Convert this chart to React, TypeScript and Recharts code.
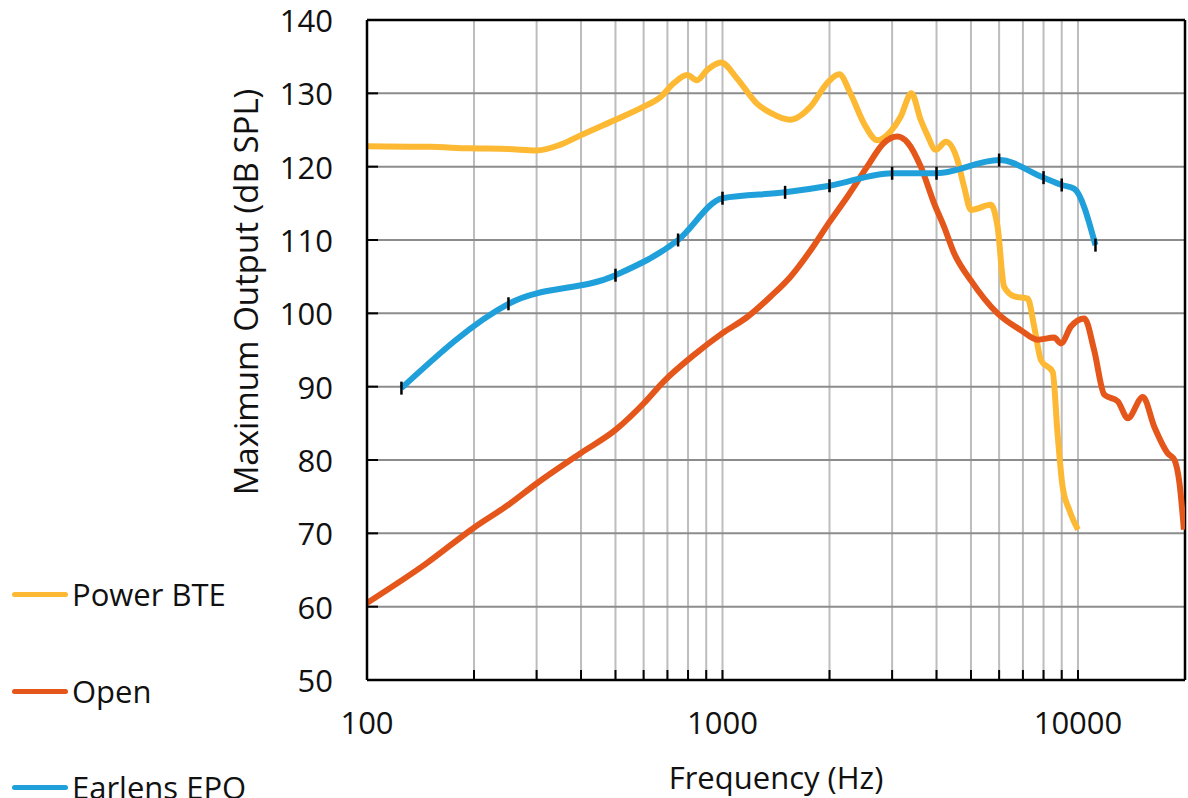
import { CartesianGrid, Line, LineChart, ReferenceLine, XAxis, YAxis } from 'recharts';

const W = 1188;
const H = 798;
const PLOT_LEFT = 367;
const PLOT_BOTTOM = 680;
const FONT = '"Open Sans", "Noto Sans", sans-serif';
const FS = 31;

// Power BTE
const POWER_FREQ = [
  100, 150, 195, 250, 300, 350, 400, 500, 600, 670, 730, 795, 848, 906, 990,
  1100, 1250, 1370, 1550, 1770, 1970, 2130, 2290, 2500, 2730, 2970, 3170,
  3400, 3610, 3770, 3980, 4250, 4580, 4780, 5000, 5690, 5940, 6200, 6620,
  7220, 7530, 7870, 8490, 8760, 9050, 9450, 10000,
];
const POWER_SPL = [
  122.8, 122.7, 122.5, 122.4, 122.2, 123.0, 124.3, 126.4, 128.2, 129.5, 131.4,
  132.5, 131.8, 133.2, 134.2, 132, 128.6, 127.3, 126.4, 128.2, 131.4, 132.6,
  130, 125.9, 123.6, 124.8, 126.8, 130, 126.4, 124.3, 122.3, 123.4, 120.9,
  117.3, 114.1, 114.8, 111.8, 103.6, 102.3, 102, 98.2, 93.6, 92, 83.6, 76.4,
  73.2, 70.5,
];

// Open
const OPEN_FREQ = [
  100, 147, 199, 250, 300, 398, 500, 600, 683, 830, 1000, 1174, 1366, 1554,
  1770, 1990, 2245, 2553, 2840, 3105, 3327, 3612, 3938, 4201, 4483, 4995,
  5939, 6909, 7698, 8570, 8955, 9556, 10420, 11100, 11860, 12940, 13810,
  15220, 16400, 17890, 18680, 19300, 19860,
];
const OPEN_SPL = [
  60.5, 65.9, 70.7, 73.9, 76.8, 80.9, 84.1, 87.7, 90.7, 94.3, 97.3, 99.5,
  102.3, 105, 108.6, 112.3, 115.9, 120, 123.2, 124.1, 123.2, 120, 115, 111.8,
  108.2, 104.5, 100, 97.7, 96.4, 96.7, 95.9, 98.2, 99.3, 95, 88.9, 88, 85.7,
  88.6, 84.5, 80.9, 80, 76.8, 70.5,
];

// Earlens EPO
const EARLENS_FREQ = [125, 250, 500, 750, 1000, 1500, 2000, 3000, 4000, 6000, 8000, 9000, 9750, 11200];
const EARLENS_SPL = [89.8, 101.3, 105.2, 110, 115.7, 116.5, 117.4, 119.1, 119.1, 120.9, 118.5, 117.5, 117.0, 109.3];
const EARLENS_UNMARKED = [9750];

const X_TICKS = [
  100, 200, 300, 400, 500, 600, 700, 800, 900, 1000, 2000, 3000, 4000, 5000,
  6000, 7000, 8000, 9000, 10000, 20000,
];
const X_LABELS = [100, 1000, 10000];
const Y_TICKS = [50, 60, 70, 80, 90, 100, 110, 120, 130, 140];

const SERIES = [
  { name: 'Power BTE', color: '#FDB933', legendY: 594 },
  { name: 'Open', color: '#E5561A', legendY: 691 },
  { name: 'Earlens EPO', color: '#1FA0DB', legendY: 787 },
];

const toRows = (freq: number[], spl: number[]) =>
  freq.map((f, i) => ({ freq: f, value: spl[i] }));

const powerData = toRows(POWER_FREQ, POWER_SPL);
const openData = toRows(OPEN_FREQ, OPEN_SPL);
const earlensData = toRows(EARLENS_FREQ, EARLENS_SPL);

const XTick = (props: any) => {
  const { x, payload } = props;
  const v = payload.value;
  return (
    <g>
      <line x1={x} x2={x} y1={PLOT_BOTTOM} y2={PLOT_BOTTOM - 10} stroke="#000" strokeWidth={2} />
      {X_LABELS.includes(v) && (
        <text x={x} y={PLOT_BOTTOM + 42} textAnchor="middle" dominantBaseline="central" fontSize={FS} fontFamily={FONT} fill="#111">
          {v}
        </text>
      )}
    </g>
  );
};

const YTick = (props: any) => {
  const { y, payload } = props;
  return (
    <g>
      <line x1={PLOT_LEFT} x2={PLOT_LEFT + 11} y1={y} y2={y} stroke="#000" strokeWidth={2} />
      <text x={PLOT_LEFT - 34} y={y} textAnchor="end" dominantBaseline="central" fontSize={FS} fontFamily={FONT} fill="#111">
        {payload.value}
      </text>
    </g>
  );
};

// small black measurement ticks, drawn beneath the blue line
const MarkerDot = (props: any) => {
  const { cx, cy, payload, index } = props;
  if (cx == null || cy == null || EARLENS_UNMARKED.includes(payload.freq)) {
    return <g key={`m-${index}`} />;
  }
  return <line key={`m-${index}`} x1={cx} x2={cx} y1={cy - 6.5} y2={cy + 6.5} stroke="#000" strokeWidth={2.5} />;
};

export default function App() {
  return (
    <div style={{ position: 'absolute', left: 0, top: 0, width: W, height: H, background: '#fff', fontFamily: FONT }}>
      <LineChart width={W} height={H} margin={{ top: 20, right: 3, bottom: 0, left: 0 }}>
        <CartesianGrid horizontal={false} stroke="#bdbdbd" strokeWidth={2} />
        <CartesianGrid vertical={false} stroke="#8c8c8c" strokeWidth={2} />
        <XAxis
          dataKey="freq"
          type="number"
          scale="log"
          domain={[100, 20000]}
          ticks={X_TICKS}
          interval={0}
          allowDataOverflow
          height={118}
          axisLine={{ stroke: '#000', strokeWidth: 2.5 }}
          tickLine={false}
          tick={<XTick />}
          label={() => (
            <text x={776} y={777} textAnchor="middle" dominantBaseline="central" fontSize={FS} fontFamily={FONT} fill="#111">
              Frequency (Hz)
            </text>
          )}
        />
        <YAxis
          type="number"
          domain={[50, 140]}
          ticks={Y_TICKS}
          interval={0}
          width={367}
          axisLine={{ stroke: '#000', strokeWidth: 2.5 }}
          tickLine={false}
          tick={<YTick />}
          label={() => (
            <text
              x={245}
              y={292}
              transform="rotate(-90 245 292)"
              textAnchor="middle"
              dominantBaseline="central"
              fontSize={33}
              fontFamily={FONT}
              fill="#111"
            >
              Maximum Output (dB SPL)
            </text>
          )}
        />
        <ReferenceLine y={140} stroke="#000" strokeWidth={2.5} />
        <ReferenceLine x={20000} stroke="#000" strokeWidth={2.5} />
        <Line data={powerData} dataKey="value" name="Power BTE" type="monotone" stroke={SERIES[0].color} strokeWidth={6} dot={false} isAnimationActive={false} />
        <Line data={openData} dataKey="value" name="Open" type="monotone" stroke={SERIES[1].color} strokeWidth={6} dot={false} isAnimationActive={false} />
        <Line data={earlensData} dataKey="value" name="markers" type="monotone" stroke="none" dot={<MarkerDot />} activeDot={false} legendType="none" isAnimationActive={false} />
        <Line data={earlensData} dataKey="value" name="Earlens EPO" type="monotone" stroke={SERIES[2].color} strokeWidth={6} dot={false} isAnimationActive={false} />
      </LineChart>

      {SERIES.map((s) => (
        <div
          key={s.name}
          style={{ position: 'absolute', left: 12, top: s.legendY - 22, height: 44, display: 'flex', alignItems: 'center' }}
        >
          <span style={{ display: 'inline-block', width: 56, height: 5, borderRadius: 3, background: s.color }} />
          <span style={{ marginLeft: 4, fontSize: FS, color: '#111', lineHeight: '44px' }}>{s.name}</span>
        </div>
      ))}
    </div>
  );
}
